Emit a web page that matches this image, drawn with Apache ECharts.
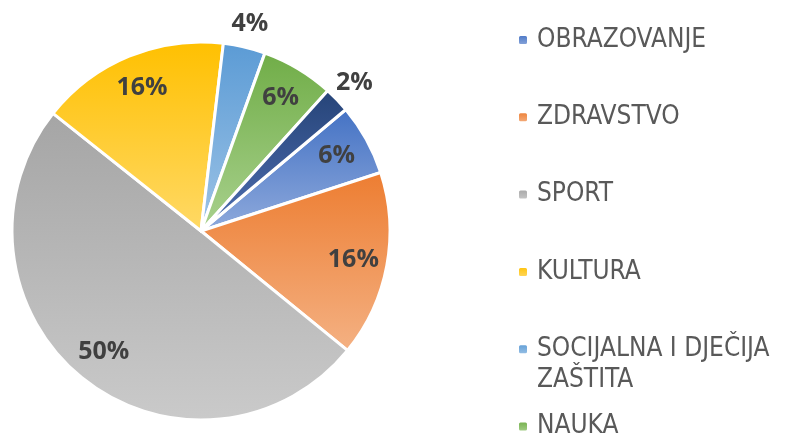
<!DOCTYPE html>
<html>
<head>
<meta charset="utf-8">
<title>Pie</title>
<script src="https://cdn.jsdelivr.net/npm/echarts@6/dist/echarts.min.js"></script>
<style>
  html, body { margin: 0; padding: 0; background: #fff; }
  #chart { width: 785px; height: 434px; }
</style>
</head>
<body>
<div id="chart"></div>
<script>
// podaci
var categories = ['OBRAZOVANJE', 'ZDRAVSTVO', 'SPORT', 'KULTURA', 'SOCIJALNA I DJEČIJA ZAŠTITA', 'NAUKA', 'OSTALO'];
var values = [6.1, 15.9, 49.8, 16.2, 3.6, 6.2, 2.2];

// boje: gornja i donja boja gradijenta
var topColors = ['#4472C4', '#ED7D31', '#A5A5A5', '#FFC000', '#5B9BD5', '#70AD47', '#264478'];
var bottomColors = ['#8FAADC', '#F4B183', '#CACACA', '#FFD966', '#9DC3E6', '#A9D18E', '#4F6FB2'];

function grad(i) {
  return new echarts.graphic.LinearGradient(0, 0, 0, 1, [
    { offset: 0, color: topColors[i] },
    { offset: 1, color: bottomColors[i] }
  ]);
}

var total = values.reduce(function (a, b) { return a + b; }, 0);

var mainData = categories.map(function (name, i) {
  return { name: name, value: values[i], itemStyle: { color: grad(i) } };
});
// nevidljivi prstenovi samo za pozicije natpisa
function labelData(small) {
  return categories.map(function (name, i) {
    var isSmall = values[i] / total < 0.05;
    return {
      name: name,
      value: values[i],
      label: { show: small ? isSmall : !isSmall }
    };
  });
}

var labelStyle = {
  position: 'inside',
  overflow: 'none',
  fontFamily: 'Open Sans',
  fontWeight: 'bold',
  fontSize: 25,
  color: '#404040',
  formatter: function (p) { return Math.round(p.percent) + '%'; }
};

var legendTops = [24.5, 101.8, 179.1, 256.4, 302.7, 411, 488.3];
var legends = categories.map(function (name, i) {
  return {
    data: [name],
    left: 517,
    top: legendTops[i],
    padding: 0,
    itemWidth: 10,
    itemHeight: 10,
    selectedMode: false,
    formatter: function (n) {
      // dugi naziv u dva reda, prvi red u visini oznake
      return n.length > 20 ? ' \n' + n.replace('DJEČIJA ', 'DJEČIJA\n') : n;
    },
    textStyle: {
      fontFamily: 'DejaVu Sans Condensed',
      fontSize: 26,
      lineHeight: 31,
      color: '#595959',
      padding: [0, 0, 0, 4]
    }
  };
});

var myChart = echarts.init(document.getElementById('chart'));
var option = {
  backgroundColor: '#fff',
  animation: false,
  legend: legends,
  series: [
    {
      type: 'pie',
      center: [201, 231],
      radius: [0, 189],
      startAngle: 40,
      clockwise: true,
      silent: true,
      label: { show: false },
      labelLine: { show: false },
      itemStyle: { borderColor: '#fff', borderWidth: 3 },
      data: mainData
    },
    {
      type: 'pie',
      center: [201, 231],
      radius: [120, 184],
      startAngle: 40,
      silent: true,
      itemStyle: { color: 'rgba(0,0,0,0)', borderWidth: 0 },
      label: labelStyle,
      labelLine: { show: false },
      data: labelData(false)
    },
    {
      type: 'pie',
      center: [201, 231],
      radius: [200, 220],
      startAngle: 40,
      silent: true,
      itemStyle: { color: 'rgba(0,0,0,0)', borderWidth: 0 },
      label: labelStyle,
      labelLine: { show: false },
      data: labelData(true)
    }
  ]
};
myChart.setOption(option);
window.addEventListener('resize', function () {
  myChart.resize();
});
</script>
</body>
</html>
